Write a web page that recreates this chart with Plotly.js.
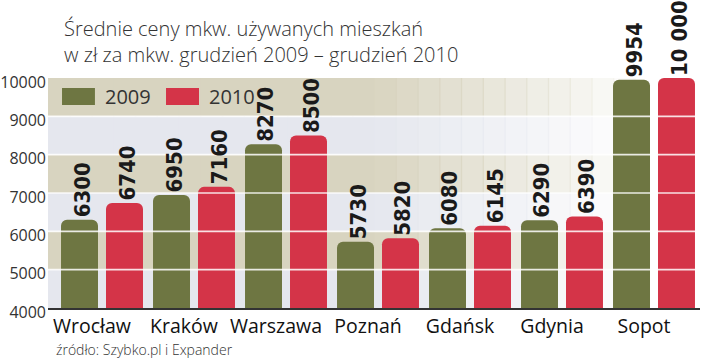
<!DOCTYPE html>
<html><head><meta charset="utf-8">
<script src="https://cdn.plot.ly/plotly-3.0.1.min.js"></script>
<style>html,body{margin:0;padding:0;background:#fff}#chart{width:720px;height:359px}</style>
</head><body><div id="chart"></div><script>
const cities = ['Wrocław','Kraków','Warszawa','Poznań','Gdańsk','Gdynia','Sopot'];
const values2009 = [6300,6950,8270,5730,6080,6290,9954];
const values2010 = [6740,7160,8500,5820,6145,6390,10000];
const labels2009 = ['6300','6950','8270','5730','6080','6290','9954'];
const labels2010 = ['6740','7160','8500','5820','6145','6390','10 000'];
const yTicks = [4000,5000,6000,7000,8000,9000,10000];
const seriesNames = ['2009','2010'];
const titleLines = ['Średnie ceny mkw. używanych mieszkań','w zł za mkw. grudzień 2009 – grudzień 2010'];
const sourceText = 'źródło: Szybko.pl i Expander';

const GREEN = '#6e7642', RED = '#d43448';
const TAN = '#d8d4c0', LIGHT = '#e5e7ee';
const FONT = 'Open Sans, sans-serif';
const NUMFONT = 'DejaVu Sans Condensed, DejaVu Sans, sans-serif';

const traces = [
  {type:'bar', name:seriesNames[0], x:cities, y:values2009,
   marker:{color:GREEN, line:{width:0}, cornerradius:6}, hoverinfo:'skip', showlegend:false},
  {type:'bar', name:seriesNames[1], x:cities, y:values2010,
   marker:{color:RED, line:{width:0}, cornerradius:6}, hoverinfo:'skip', showlegend:false}
];

const shapes = [];
// background bands fading to white on the right
const N = 30;
for (let k = 0; k < yTicks.length - 1; k++) {
  const col = (k % 2 === 0) ? LIGHT : TAN;
  for (let s = 0; s < N; s++) {
    const x0 = s / N, x1 = (s + 1) / N, xm = (x0 + x1) / 2;
    const op = xm < 0.5 ? 1 : Math.max(0, 1 - (xm - 0.5) / 0.42);
    if (op <= 0) continue;
    shapes.push({type:'rect', xref:'paper', yref:'y', x0:x0, x1:x1 + 0.002,
      y0:yTicks[k], y1:yTicks[k+1], fillcolor:col, opacity:op, line:{width:0}, layer:'below'});
  }
}
// white grid lines drawn over bars
for (let k = 1; k < yTicks.length - 1; k++) {
  shapes.push({type:'line', xref:'paper', yref:'y', x0:0, x1:1, y0:yTicks[k], y1:yTicks[k],
    line:{color:'rgba(255,255,255,0.85)', width:1.6}, layer:'above'});
}
// legend swatches
shapes.push({type:'rect', xref:'paper', yref:'paper', x0:0.0215, x1:0.072, y0:0.883, y1:0.957,
  fillcolor:GREEN, line:{width:0}, layer:'above'});
shapes.push({type:'rect', xref:'paper', yref:'paper', x0:0.181, x1:0.2316, y0:0.883, y1:0.957,
  fillcolor:RED, line:{width:0}, layer:'above'});

const annotations = [];
cities.forEach((c, i) => {
  annotations.push({x:c, y:values2009[i], xref:'x', yref:'y', text:labels2009[i], showarrow:false,
    textangle:-90, xanchor:'center', yanchor:'bottom', xshift:-20, yshift:0,
    font:{family:NUMFONT, size:22, color:'#1a1a1a', weight:'bold'}});
  annotations.push({x:c, y:values2010[i], xref:'x', yref:'y', text:labels2010[i], showarrow:false,
    textangle:-90, xanchor:'center', yanchor:'bottom', xshift:25, yshift:0,
    font:{family:NUMFONT, size:22, color:'#1a1a1a', weight:'bold'}});
});
annotations.push({xref:'paper', yref:'paper', x:0.084, y:0.92, xanchor:'left', yanchor:'middle',
  text:seriesNames[0], showarrow:false, font:{family:FONT, size:20, color:'#333'}});
annotations.push({xref:'paper', yref:'paper', x:0.244, y:0.92, xanchor:'left', yanchor:'middle',
  text:seriesNames[1], showarrow:false, font:{family:FONT, size:20, color:'#333'}});
annotations.push({xref:'paper', yref:'paper', x:0.011, y:(308-349.5)/230, xanchor:'left', yanchor:'middle',
  text:sourceText, showarrow:false, borderpad:0, font:{family:FONT, size:14, color:'#333', weight:300}});
// title lines
annotations.push({xref:'paper', yref:'paper', x:(62-48)/652, y:(308-29)/230, xanchor:'left', yanchor:'middle',
  text:titleLines[0], showarrow:false, font:{family:FONT, size:20, color:'#333', weight:300}});
annotations.push({xref:'paper', yref:'paper', x:(62-48)/652, y:(308-55)/230, xanchor:'left', yanchor:'middle',
  text:titleLines[1], showarrow:false, font:{family:FONT, size:20, color:'#333', weight:300}});

const layout = {
  width:720, height:359,
  margin:{l:48, r:20, t:78, b:51},
  paper_bgcolor:'#fff', plot_bgcolor:'rgba(0,0,0,0)',
  barmode:'group', bargap:0.022, bargroupgap:0.178,
  xaxis:{type:'category', range:[-0.587, 6.5], showgrid:false, zeroline:false,
    showline:true, linecolor:'#333', linewidth:2, ticks:'',
    tickfont:{family:FONT, size:19.5, color:'#111'}, ticklabelstandoff:0, ticklabelshift:-10, fixedrange:true},
  yaxis:{range:[4000, 10000], tickvals:yTicks, ticktext:yTicks.map(String), showgrid:false,
    zeroline:false, showline:false, ticks:'', ticklabelshift:4, ticklabelstandoff:1,
    tickfont:{family:FONT, size:16, color:'#333'}, fixedrange:true},
  shapes:shapes, annotations:annotations, showlegend:false
};
Plotly.newPlot('chart', traces, layout, {displayModeBar:false, staticPlot:true});
</script></body></html>
